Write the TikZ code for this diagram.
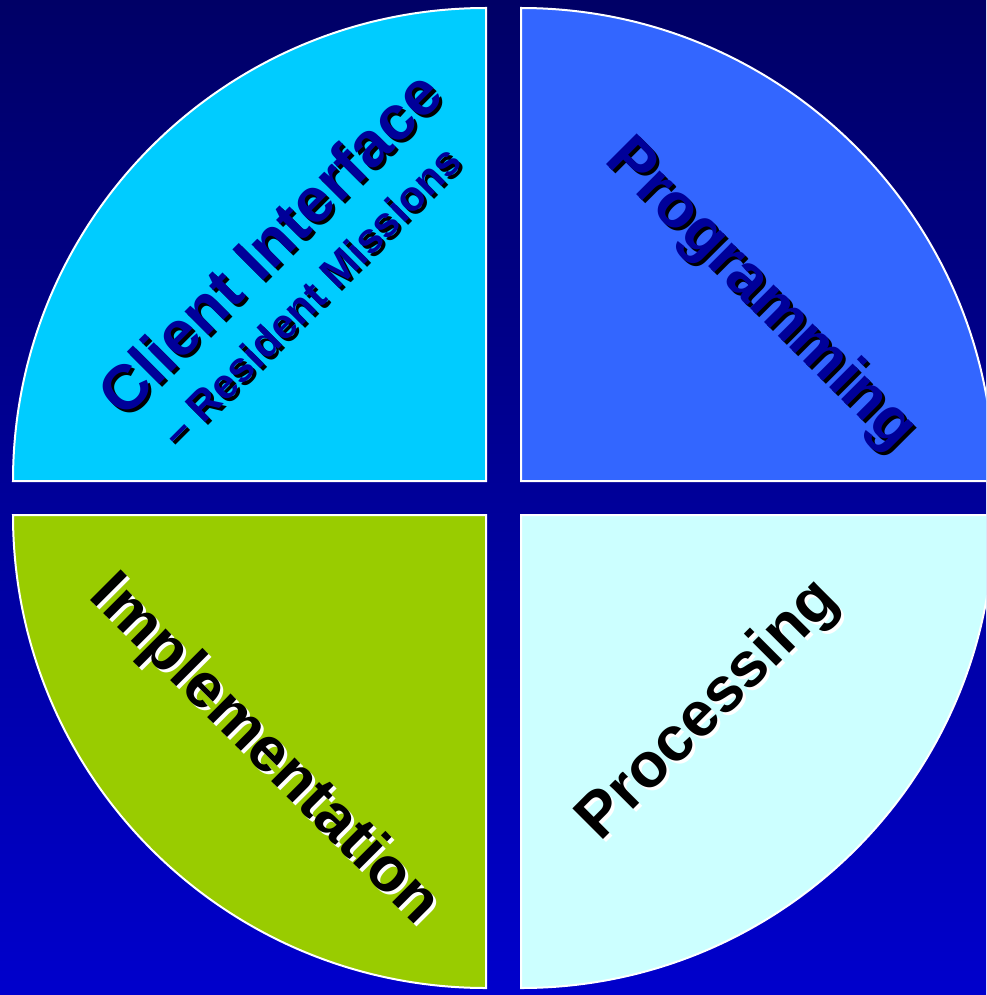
\documentclass[tikz,border=0pt]{standalone}
\usepackage{fontspec}
\setmainfont{Liberation Sans}
\definecolor{bgtop}{HTML}{000066}
\definecolor{bgbot}{HTML}{0000CC}
\definecolor{clientcol}{HTML}{00CCFF}
\definecolor{progcol}{HTML}{3366FF}
\definecolor{implcol}{HTML}{99CC00}
\definecolor{proccol}{HTML}{CCFFFF}
\definecolor{txtblue}{HTML}{000099}
\begin{document}
\begin{tikzpicture}[x=1pt,y=-1pt,
		quarter/.style={draw=white,line width=2pt},
		bigtext/.style={font=\bfseries\fontsize{63}{68}\selectfont,inner sep=0pt},
		smalltext/.style={font=\bfseries\fontsize{42}{46}\selectfont,inner sep=0pt}]
	\useasboundingbox (0,0) rectangle (986,995);
	\clip (0,0) rectangle (986,995);
	% background
	\shade[top color=bgtop,bottom color=bgbot] (0,0) rectangle (986,995);
	% four quarters
	\filldraw[quarter,fill=clientcol] (486,481) -- (13,481) arc[start angle=180,end angle=90,radius=473pt] -- cycle;
	\filldraw[quarter,fill=progcol] (521,481) -- (521,8) arc[start angle=90,end angle=0,radius=473pt] -- cycle;
	\filldraw[quarter,fill=implcol] (486,515) -- (13,515) arc[start angle=180,end angle=270,radius=473pt] -- cycle;
	\filldraw[quarter,fill=proccol] (521,515) -- (994,515) arc[start angle=0,end angle=-90,radius=473pt] -- cycle;
	% labels, shadow first
	\node[bigtext,rotate=45,text=black] (clientsh) at (272,246) {Client Interface};
	\node[bigtext,rotate=45,text=txtblue] (client) at (269,243) {Client Interface};
	\node[smalltext,rotate=45,text=black] (missionsh) at (314,299) {-- Resident Missions};
	\node[smalltext,rotate=45,text=txtblue] (mission) at (311,296) {-- Resident Missions};
	\node[bigtext,rotate=-45,text=black] (progsh) at (763,298) {Programming};
	\node[bigtext,rotate=-45,text=txtblue] (prog) at (760,295) {Programming};
	\node[bigtext,rotate=-45,text=white] (implsh) at (267,754) {Implementation};
	\node[bigtext,rotate=-45,text=black] (impl) at (264,751) {Implementation};
	\node[bigtext,rotate=45,text=white] (procsh) at (712,714) {Processing};
	\node[bigtext,rotate=45,text=black] (proc) at (709,711) {Processing};
\end{tikzpicture}
\end{document}
